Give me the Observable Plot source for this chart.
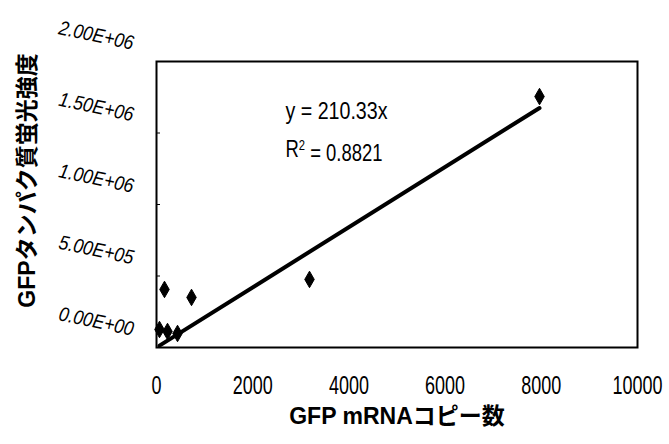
<!DOCTYPE html>
<html><head><meta charset="utf-8">
<script src="https://cdn.jsdelivr.net/npm/d3@7"></script>
<script src="https://cdn.jsdelivr.net/npm/@observablehq/plot@0.6"></script>
<style>
body{margin:0;background:#fff}
</style></head><body><div id="chart"></div>
<script>
const mrnaCopies = [62, 166, 229, 437, 728, 3181, 7963];
const gfpIntensity = [126000, 406000, 112000, 98000, 350000, 476000, 1755000];
const yTicks = [0, 500000, 1000000, 1500000, 2000000];
const yTickLabels = ["0.00E+00", "5.00E+05", "1.00E+06", "1.50E+06", "2.00E+06"];
const xTicks = [0, 2000, 4000, 6000, 8000, 10000];
const slope = 210.33;
const r2 = 0.8821;
const xTitle = "GFP mRNAコピー数";
const yTitle = "GFPタンパク質蛍光強度";

const points = mrnaCopies.map((x, i) => ({x, y: gfpIntensity[i]}));
const trend = d3.extent(mrnaCopies).map(x => ({x, y: slope * x}));
const narrow = '"Liberation Sans",sans-serif';
const boldFont = '"Liberation Sans","Noto Sans CJK JP",sans-serif';

const chart = Plot.plot({
  width: 669, height: 444,
  marginLeft: 156, marginRight: 32, marginTop: 61, marginBottom: 97,
  style: {fontFamily: narrow, background: "#fff", color: "#000"},
  x: {domain: [0, 10000]},
  y: {domain: [0, 2e6]},
  marks: [
    Plot.axisY({ticks: yTicks, tickSize: -4, tickFormat: () => "", label: null, strokeWidth: 1}),
    Plot.axisY({ticks: yTicks, tickSize: 0, tickPadding: 23, tickRotate: 12, dy: -18,
      tickFormat: d => yTickLabels[yTicks.indexOf(d)], fontSize: 20, fontStyle: "italic", label: null}),
    Plot.axisX({ticks: xTicks, tickSize: 0, tickPadding: 29, tickFormat: d => String(d), fontSize: 25, label: null}),
    Plot.frame({stroke: "#000", strokeWidth: 2}),
    Plot.line(trend, {x: "x", y: "y", stroke: "#000", strokeWidth: 4}),
    Plot.dot(points, {x: "x", y: "y", symbol: "diamond", r: 5, fill: "#000", stroke: "#000", strokeWidth: 1}),
    Plot.text([`y = ${slope}x`], {frameAnchor: "top-left", dx: 129, dy: 41, textAnchor: "start", fontSize: 23}),
    Plot.text([`R = ${r2}`], {frameAnchor: "top-left", dx: 129, dy: 79, textAnchor: "start", fontSize: 23}),
    Plot.text([xTitle], {frameAnchor: "bottom", dy: 76, fontFamily: boldFont, fontWeight: "bold", fontSize: 23}),
    Plot.text([yTitle], {frameAnchor: "left", dx: -129, dy: -24, rotate: -90, textAnchor: "middle", fontFamily: boldFont, fontWeight: "bold", fontSize: 23})
  ]
});
document.getElementById("chart").appendChild(chart);

// condensed, tall look of the original typeface
const svg = d3.select(chart);
svg.selectAll('g[aria-label="x-axis tick label"] text').each(function() {
  d3.select(this).style("font-size", "25px")
    .attr("textLength", this.textContent.length * 10).attr("lengthAdjust", "spacingAndGlyphs");
});
svg.selectAll('g[aria-label="y-axis tick label"] text').each(function() {
  d3.select(this).style("font-size", "20px").style("font-style", "italic")
    .attr("textLength", 76).attr("lengthAdjust", "spacingAndGlyphs");
});
svg.selectAll('g[aria-label="text"] text').each(function() {
  const s = this.textContent;
  const t = d3.select(this);
  if (s.startsWith("y =")) {
    t.style("font-size", "23px").attr("textLength", 102).attr("lengthAdjust", "spacingAndGlyphs");
  } else if (s.startsWith("R =")) {
    t.style("font-size", "23px").text(null);
    t.append("tspan").text("R");
    t.append("tspan").attr("dy", "-0.5em").style("font-size", "14px").text("2");
    t.append("tspan").attr("dy", "0.5em").text(" = " + r2);
    t.attr("textLength", 97).attr("lengthAdjust", "spacingAndGlyphs");
  }
});
</script>
</body></html>
